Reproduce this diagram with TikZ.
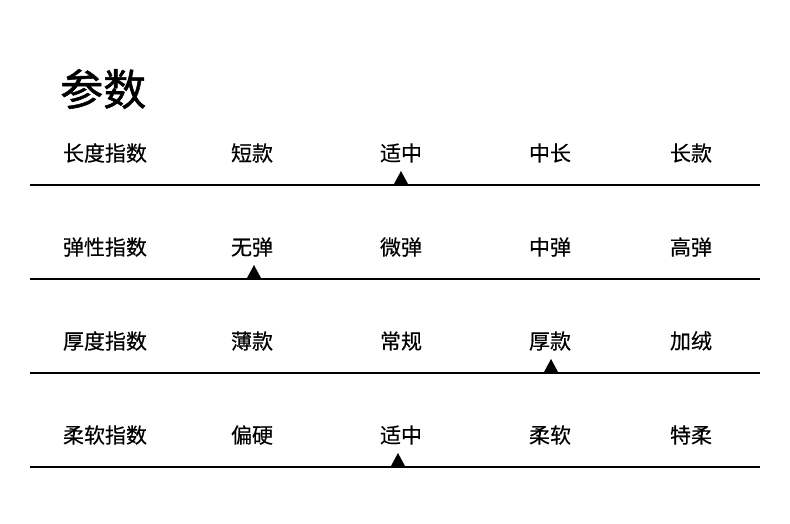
\documentclass[tikz,border=0pt]{standalone}
\usepackage{fontspec}
\setmainfont{Noto Sans CJK SC}
\newfontfamily\cjk{Noto Sans CJK SC}
\newfontfamily\cjkbold[FakeBold=1.2]{Noto Sans CJK SC}
\newfontfamily\cjksemi[FakeBold=0.4]{Noto Sans CJK SC}
\begin{document}
\begin{tikzpicture}[x=1pt,y=-1pt,
  lbl/.style={font=\cjksemi\fontsize{21}{21}\selectfont, inner sep=0pt, anchor=center},
  title/.style={font=\cjkbold\fontsize{43}{43}\selectfont, inner sep=0pt, anchor=west},
  rule/.style={line width=2pt, black},
  marker/.style={fill=black, draw=none}]
\useasboundingbox (0,0) rectangle (790,523);
\node[title] (t) at (60,89) {参数};
% rows
\foreach \r/\y/\a/\b/\c/\d/\e/\m in {
  1/153/长度指数/短款/适中/中长/长款/401,
  2/247/弹性指数/无弹/微弹/中弹/高弹/254,
  3/341/厚度指数/薄款/常规/厚款/加绒/551,
  4/435/柔软指数/偏硬/适中/柔软/特柔/398}{
  \node[lbl] (l\r) at (105,\y) {\a};
  \node[lbl] (c1\r) at (252,\y) {\b};
  \node[lbl] (c2\r) at (401,\y) {\c};
  \node[lbl] (c3\r) at (550,\y) {\d};
  \node[lbl] (c4\r) at (691,\y) {\e};
  \coordinate (s\r) at (30,\y+32);
  \coordinate (e\r) at (760,\y+32);
  \draw[rule] (s\r) -- (e\r);
  \fill[marker] (\m-7,\y+31) -- (\m+7,\y+31) -- (\m,\y+18) -- cycle;
}
\end{tikzpicture}
\end{document}
